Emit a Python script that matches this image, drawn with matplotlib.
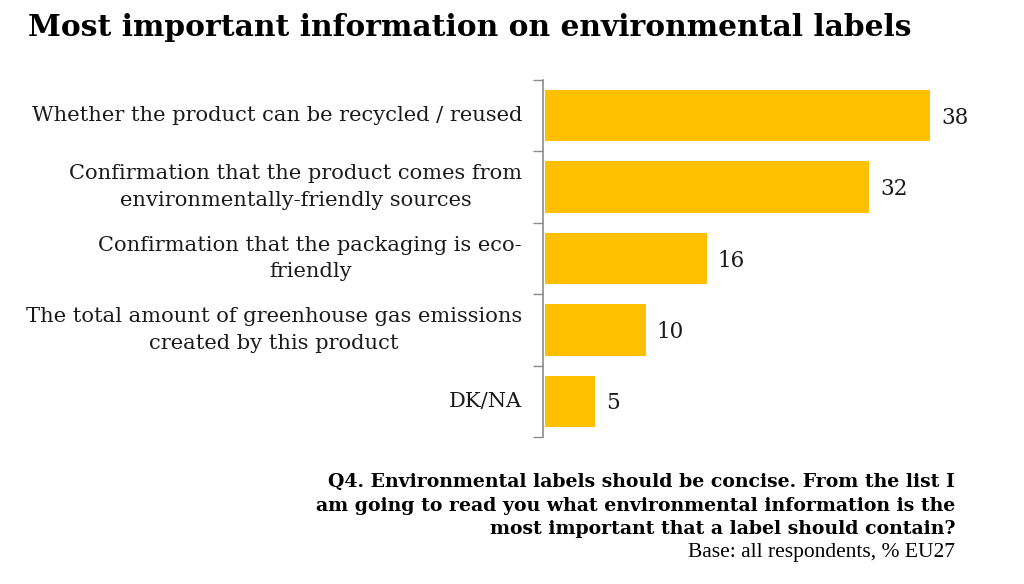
import matplotlib
matplotlib.use("Agg")
import matplotlib.pyplot as plt
import matplotlib.transforms as mtrans

categories = [
    "Whether the product can be recycled / reused",
    "Confirmation that the product comes from\nenvironmentally-friendly sources",
    "Confirmation that the packaging is eco-\nfriendly",
    "The total amount of greenhouse gas emissions\ncreated by this product",
    "DK/NA",
]
values = [38, 32, 16, 10, 5]
value_labels = ["38", "32", "16", "10", "5"]

title = "Most important information on environmental labels"
question_lines = [
    "Q4. Environmental labels should be concise. From the list I",
    "am going to read you what environmental information is the",
    "most important that a label should contain?",
]
base = "Base: all respondents, % EU27"

W, H = 1024, 584
fig = plt.figure(figsize=(W / 100, H / 100), dpi=100)
fig.patch.set_facecolor("white")

ax_left, ax_right, ax_top, ax_bottom = 543, 949, 80, 437
ax = fig.add_axes([ax_left / W, 1 - ax_bottom / H, (ax_right - ax_left) / W, (ax_bottom - ax_top) / H])

ypos = list(range(len(categories)))
ax.barh(ypos, values, height=0.72, color="#FFC000", left=0.15)
ax.set_xlim(0, 40)
ax.set_ylim(len(categories) - 0.5, -0.5)

for y, v, lab in zip(ypos, values, value_labels):
    ax.text(v + 1.2, y + 0.03, lab, va="center", ha="left",
            fontsize=15.5, family="DejaVu Serif", color="#1a1a1a")

ax.set_yticks([i - 0.5 for i in range(len(categories) + 1)])
ax.set_yticklabels([])
ax.tick_params(axis="y", length=7, width=1, color="#8c8c8c", direction="out")
ax.set_xticks([])
for s in ["top", "right", "bottom"]:
    ax.spines[s].set_visible(False)
ax.spines["left"].set_color("#8c8c8c")
ax.spines["left"].set_linewidth(1.2)

trans = mtrans.blended_transform_factory(fig.transFigure, ax.transData)
for y, cat in zip(ypos, categories):
    ax.text(522 / W, y, cat, ha="right", va="center", multialignment="center",
            transform=trans, fontsize=15.1, family="DejaVu Serif",
            color="#1a1a1a", linespacing=1.5)

fig.text(28 / W, 1 - 27 / H, title, ha="left", va="center", fontsize=21.4,
         fontweight="bold", family="DejaVu Serif", color="#000000")

q_y = [482, 506, 529]
for yy, line in zip(q_y, question_lines):
    fig.text(955 / W, 1 - yy / H, line, ha="right", va="center",
             fontsize=13.6, fontweight="bold", family="DejaVu Serif", color="#000000")
fig.text(955 / W, 1 - 552 / H, base, ha="right", va="center", fontsize=15.5,
         family="Liberation Serif", color="#000000")

fig.savefig("out.png", dpi=100, facecolor="white")
